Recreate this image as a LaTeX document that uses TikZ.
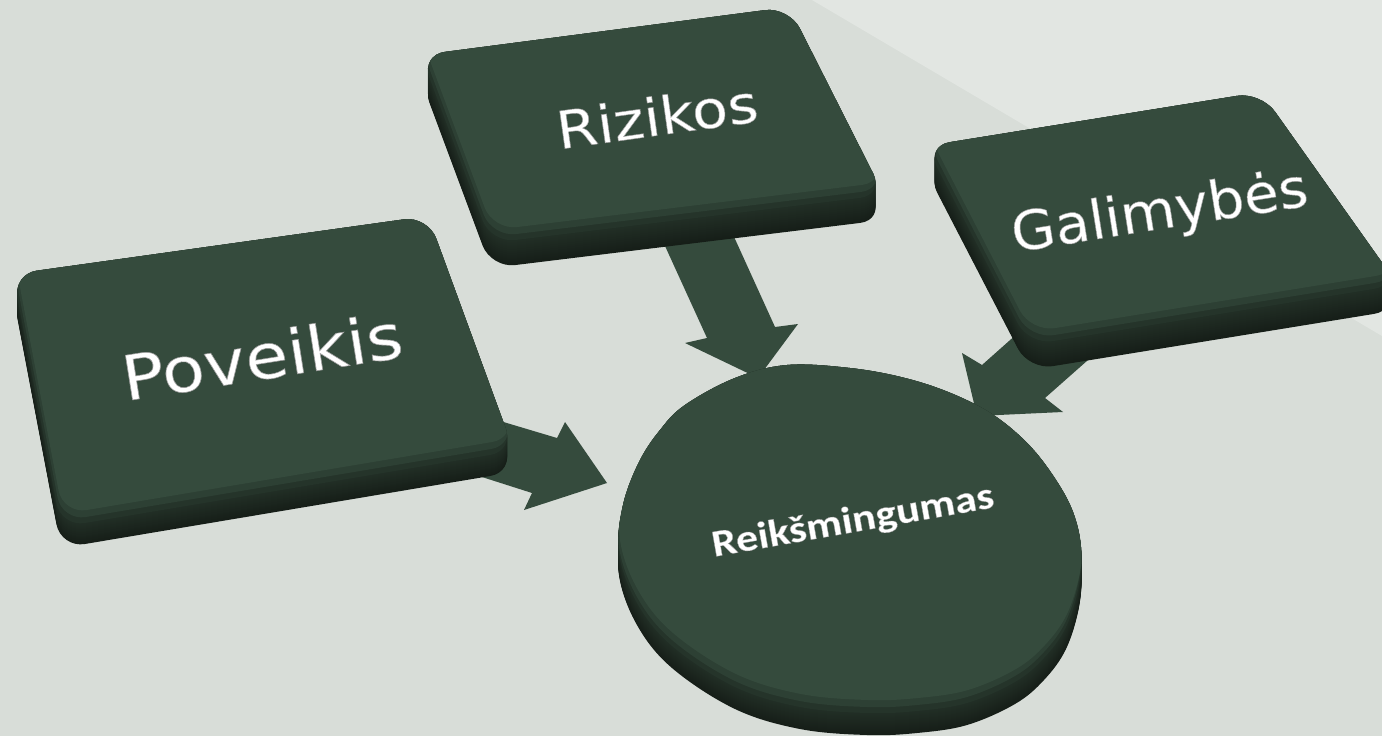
\documentclass[tikz,border=0pt]{standalone}
\usepackage{fontspec}
\newfontfamily\dvfont[FakeBold=0.9]{DejaVu Sans}
\newfontfamily\carlfont[FakeBold=0.9]{Carlito Bold}
\definecolor{bgc}{RGB}{216,221,216}
\definecolor{bglc}{RGB}{226,230,226}
\definecolor{facec}{RGB}{53,75,61}
\definecolor{facemidc}{RGB}{45,64,52}
\definecolor{bevelc}{RGB}{37,52,42}
\definecolor{sidedark}{RGB}{22,30,24}
\definecolor{sidelight}{RGB}{34,47,38}
\newcommand\embossed[1]{\color{white}\special{pdf:code 0.62 0.62 0.62 RG}#1}
\tikzset{
  povp/.style={insert path={(13,274) -- (428,216) -- (514,451) -- (61,527) -- cycle}},
  rizp/.style={insert path={(421,55) -- (789,7) -- (884,195) -- (491,243) -- cycle}},
  galp/.style={insert path={(926,146) -- (1261,92) -- (1398,285) -- (1029,345) -- cycle}},
  circp/.style={insert path={plot[smooth cycle, tension=0.6] coordinates {
    (787,365) (850,368) (905,378) (953,394) (995,416) (1030,446) (1056,480) (1073,512)
    (1081,547) (1079,585) (1066,627) (1044,658) (1015,682) (967,703) (917,711) (867,713)
    (800,707) (735,687) (672,646) (637,603) (619,553) (623,505) (639,462) (660,430)
    (685,405) (735,378)}}},
  arrowfill/.style={fill=facec},
  boxlabel/.style={inner sep=0pt, font=\dvfont},
}
\begin{document}
\begin{tikzpicture}[x=1pt,y=-1pt]
\useasboundingbox (0,0) rectangle (1382,736);
\clip (0,0) rectangle (1382,736);
% background
\fill[bgc] (0,0) rectangle (1382,736);
\fill[bglc] (812,0) -- (1382,0) -- (1382,336) -- cycle;
% arrows (under the slabs)
\fill[arrowfill] (480,415) -- (557,438) -- (565,422) -- (607,483) -- (524,510) -- (532,493) -- (460,470) -- cycle;
\fill[arrowfill] (660,235) -- (707,338) -- (685,343) -- (758,378) -- (798,324) -- (775,327) -- (730,228) -- cycle;
\fill[arrowfill] (1027,325) -- (982,365) -- (962,353) -- (977,416) -- (1063,412) -- (1045,398) -- (1105,345) -- cycle;
% slabs
\foreach \shp/\t in {povp/21, rizp/25, galp/25}{
  \foreach \d in {0,...,\t}{
    \pgfmathtruncatemacro\m{100*(\t-\d)/\t}
    \fill[sidedark!\m!sidelight, rounded corners=24pt, shift={(0,\t-\d)}, \shp];
  }
  \begin{scope}
    \path[clip, rounded corners=24pt, \shp];
    \fill[bevelc] (0,0) rectangle (1382,736);
    \fill[facemidc, rounded corners=24pt, shift={(1,-6)}, \shp];
    \fill[facec, rounded corners=24pt, shift={(2,-13)}, \shp];
  \end{scope}
}
% disc
\foreach \d in {0,...,22}{
  \pgfmathtruncatemacro\m{100*(22-\d)/22}
  \fill[sidedark!\m!sidelight, shift={(0,22-\d)}, circp];
}
\begin{scope}
  \path[clip, circp];
  \fill[bevelc] (0,0) rectangle (1382,736);
  \fill[facemidc, shift={(0,-6)}, circp];
  \fill[facec, shift={(1,-13)}, circp];
\end{scope}
% labels
\node[boxlabel, rotate=9] (tpov) at (262,356) {\scalebox{1.13}[1]{\fontsize{62}{62}\selectfont\embossed{Poveikis}}};
\node[boxlabel, rotate=8] (triz) at (657,116) {\scalebox{1.13}[1]{\fontsize{52}{52}\selectfont\embossed{Rizikos}}};
\node[boxlabel, rotate=9] (tgal) at (1160,214) {\scalebox{1.05}[1]{\fontsize{54}{54}\selectfont\embossed{Galimybės}}};
\node[inner sep=0pt, rotate=10] (trei) at (853,522) {\scalebox{1.16}[1]{\carlfont\fontsize{38}{38}\selectfont\embossed{Reikšmingumas}}};
\end{tikzpicture}
\end{document}
